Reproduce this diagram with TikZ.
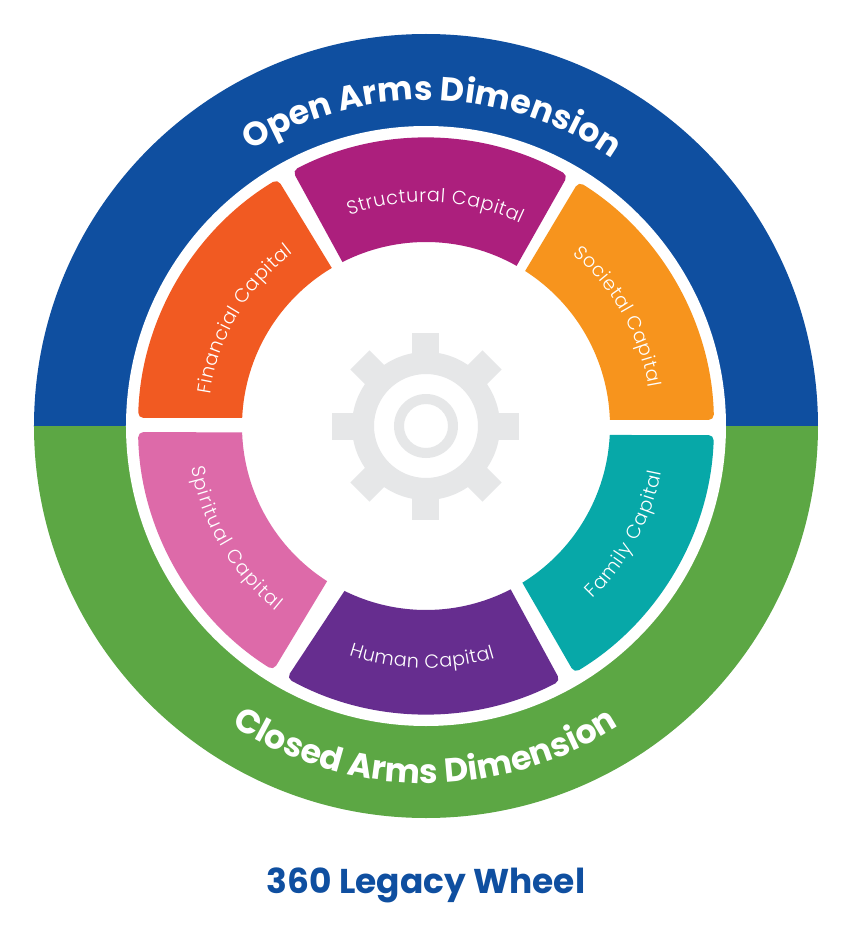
\documentclass[tikz,border=0pt]{standalone}
\usepackage{fontspec}
\setmainfont{Poppins}
\newfontfamily\lightfont{Poppins Light}
\usetikzlibrary{decorations.text}
\definecolor{openblue}{HTML}{0F4FA0}
\definecolor{closedgreen}{HTML}{5CA744}
\definecolor{gearGray}{HTML}{E6E7E8}
\definecolor{finCol}{HTML}{F15A22}
\definecolor{strCol}{HTML}{AC1F7D}
\definecolor{socCol}{HTML}{F7941D}
\definecolor{famCol}{HTML}{07A8A8}
\definecolor{humCol}{HTML}{662D8F}
\definecolor{spiCol}{HTML}{DD6AA9}
\tikzset{
  dimlabel/.style={decorate, decoration={text along path, text color=white, text align={fit to path}, text={|\fontsize{25}{25}\selectfont\bfseries|#1}}},
  caplabel/.style={decorate, decoration={text along path, text color=white, text align={fit to path}, text={|\fontsize{14.3}{14.3}\lightfont|#1}}}
}
% a1,a2 inner angles, b1,b2 outer angles
\newcommand{\capsector}[5]{
  \fill[#1] (#2:184) [rounded corners=4] -- (#4:288) arc (#4:#5:288) [sharp corners] -- (#3:184) arc (#3:#2:184) -- cycle;
}
\begin{document}
\begin{tikzpicture}[x=.75pt, y=.75pt]
\useasboundingbox (-426,-503) rectangle (424,426);
\fill[openblue] (-392,0) arc (180:0:392) -- cycle;
\fill[closedgreen] (-392,0) arc (180:360:392) -- cycle;
\fill[white] (0,0) circle (300);
\capsector{finCol}{177.5}{120.8}{178.4}{121}
\capsector{strCol}{117}{60.5}{117.6}{60.5}
\capsector{socCol}{57.4}{1.9}{58}{1.2}
\capsector{famCol}{-2.8}{-58.4}{-1.8}{-59}
\capsector{humCol}{-62.6}{-116.3}{-62.2}{-118.9}
\capsector{spiCol}{-122.5}{-178}{-122}{-178.8}
% gear
\foreach \a in {0,45,...,315}
  \fill[gearGray, rotate=\a] (60,-13.5) rectangle (93.5,13.5);
\fill[gearGray, even odd rule] (0,0) circle (74) (0,0) circle (52);
\fill[gearGray, even odd rule] (0,0) circle (32) (0,0) circle (22);
% text
\path[dimlabel={Open Arms Dimension}] (122.5:326) arc (122.5:56.5:326);
\path[dimlabel={Closed Arms Dimension}] (-123:357) arc (-123:-58:357);
\path[caplabel={Structural Capital}] (110:224) arc (110:65:224);
\path[caplabel={Societal Capital}] (49.5:226) arc (49.5:9.8:226);
\path[caplabel={Financial Capital}] (171.7:218) arc (171.7:127.5:218);
\path[caplabel={Family Capital}] (-46:240) arc (-46:-11:240);
\path[caplabel={Human Capital}] (-108.6:242) arc (-108.6:-73.4:242);
\path[caplabel={Spiritual Capital}] (-170:238) arc (-170:-129:238);
\node[text=openblue, font={\fontsize{25.8}{25.8}\selectfont\bfseries}] (title) at (0,-459) {360 Legacy Wheel};
\end{tikzpicture}
\end{document}
